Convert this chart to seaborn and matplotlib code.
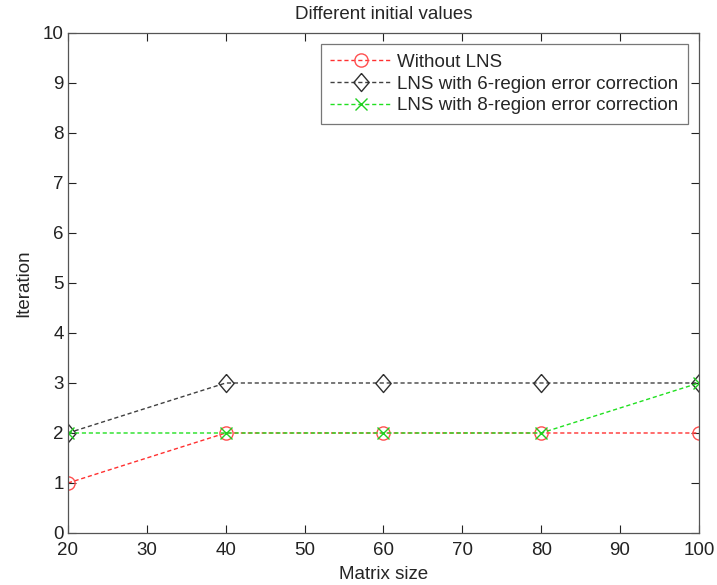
import matplotlib
matplotlib.use("Agg")
import matplotlib.pyplot as plt
import seaborn as sns
import pandas as pd

matrix_size = [20, 40, 60, 80, 100]
without_lns = [1, 2, 2, 2, 2]
lns_6 = [2, 3, 3, 3, 3]
lns_8 = [2, 2, 2, 2, 3]
labels = ["Without LNS", "LNS with 6-region error correction", "LNS with 8-region error correction"]
x_ticks = [20, 30, 40, 50, 60, 70, 80, 90, 100]
y_ticks = list(range(0, 11))

sns.set_theme(style="white")
plt.rcParams['font.family'] = ['Liberation Sans', 'DejaVu Sans']

df = pd.DataFrame({
    "Matrix size": matrix_size * 3,
    "Iteration": without_lns + lns_6 + lns_8,
    "Series": [labels[0]] * 5 + [labels[1]] * 5 + [labels[2]] * 5,
})

fig = plt.figure(figsize=(7.17, 5.85), dpi=100)
ax = fig.add_axes([0.0948, 0.0889, 0.88, 0.8547])

tall_diamond = [(0, 1), (0.85, 0), (0, -1), (-0.85, 0), (0, 1)]
styles = [
    dict(color="#ff3030", marker="o", ms=9.5, mfc="none", mec="#ff5050", mew=1.0),
    dict(color="#404040", marker=tall_diamond, ms=13, mfc="none", mec="#303030", mew=1.0),
    dict(color="#20e020", marker="x", ms=8.5, mec="#20d020", mew=1.0),
]
for lab, st in zip(labels, styles):
    sub = df[df["Series"] == lab]
    sns.lineplot(data=sub, x="Matrix size", y="Iteration", ax=ax, label=lab,
                 linestyle=(0, (3, 2)), linewidth=1.0, **st)

fs = 13.5
ax.set_xlim(20, 100)
ax.set_ylim(0, 10)
ax.set_xticks(x_ticks)
ax.set_yticks(y_ticks)
ax.tick_params(direction="in", length=6, width=0.8, labelsize=fs, colors="#222222",
               top=True, right=True, bottom=True, left=True, pad=3)
ax.tick_params(axis="x", pad=6.5)
for s in ax.spines.values():
    s.set_visible(True)
    s.set_color("#555555")
    s.set_linewidth(0.9)
ax.set_title("Different initial values", fontsize=fs, pad=10)
ax.set_xlabel("Matrix size", fontsize=fs, labelpad=5)
ax.set_ylabel("Iteration", fontsize=fs, labelpad=8)

leg = ax.legend(loc="upper right", fontsize=fs, frameon=True, fancybox=False,
                edgecolor="#555555", borderaxespad=0.6, handlelength=3.3,
                labelspacing=0.25, borderpad=0.5, handletextpad=0.25)
leg.get_frame().set_linewidth(0.9)

fig.savefig("out.png", dpi=100, facecolor="white")
